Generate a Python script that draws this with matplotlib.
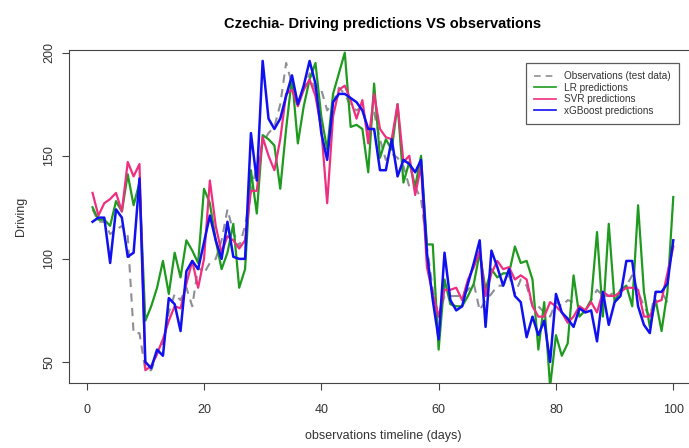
import matplotlib.pyplot as plt

plt.rcParams['font.family'] = ['Liberation Sans', 'DejaVu Sans']

days = list(range(1, 101))

observations = [124, 118, 118, 112, 114, 116, 111, 64, 64, 46,
                46, 54, 59, 74, 83, 80, 86, 77, 96, 93,
                98, 100, 109, 124, 113, 106, 116, 132, 145, 156,
                161, 164, 175, 195, 185, 176, 182, 190, 182, 182,
                172, 176, 183, 180, 174, 172, 174, 161, 171, 158,
                148, 151, 149, 145, 135, 135, 129, 106, 85, 72,
                82, 82, 82, 82, 85, 88, 75, 80, 83, 87,
                87, 92, 83, 90, 87, 77, 77, 74, 72, 79,
                77, 80, 79, 77, 75, 80, 85, 82, 82, 84,
                84, 87, 92, 84, 77, 72, 84, 84, 79, 79]

lr_pred = [125, 119, 119, 116, 128, 123, 141, 126, 137, 70,
           77, 86, 99, 83, 103, 91, 109, 104, 98, 134,
           127, 109, 95, 103, 117, 86, 95, 143, 122, 160,
           158, 155, 134, 163, 188, 156, 174, 187, 195, 169,
           153, 180, 190, 200, 164, 165, 163, 142, 185, 149,
           158, 153, 175, 137, 147, 135, 150, 107, 107, 56,
           90, 78, 77, 77, 82, 88, 103, 85, 95, 91,
           93, 93, 106, 98, 99, 90, 56, 79, 38, 63,
           53, 59, 92, 72, 75, 80, 113, 72, 117, 79,
           85, 87, 77, 126, 84, 67, 80, 65, 84, 130]

svr_pred = [132, 121, 127, 129, 132, 123, 147, 140, 146, 46,
            48, 54, 61, 70, 77, 76, 88, 99, 86, 100,
            138, 116, 103, 111, 109, 105, 109, 133, 133, 159,
            150, 143, 158, 180, 182, 174, 182, 187, 179, 163,
            127, 169, 182, 184, 177, 168, 177, 156, 180, 163,
            159, 158, 175, 147, 150, 131, 145, 96, 83, 72,
            85, 85, 86, 80, 90, 96, 104, 82, 93, 99,
            95, 96, 90, 92, 90, 77, 72, 72, 79, 77,
            74, 69, 72, 77, 75, 79, 74, 84, 82, 82,
            84, 86, 86, 85, 72, 72, 79, 80, 93, 106]

xgb_pred = [118, 120, 120, 98, 124, 120, 101, 103, 139, 50,
            47, 56, 53, 81, 78, 65, 94, 99, 95, 108,
            121, 109, 100, 118, 101, 100, 100, 161, 138, 196,
            168, 163, 168, 179, 189, 175, 184, 196, 185, 161,
            148, 176, 180, 180, 178, 176, 172, 163, 163, 143,
            143, 158, 140, 148, 146, 142, 148, 103, 80, 61,
            103, 80, 75, 77, 88, 98, 109, 67, 104, 96,
            87, 95, 82, 79, 62, 72, 63, 70, 50, 83,
            74, 71, 67, 76, 74, 75, 60, 84, 68, 79,
            82, 99, 99, 77, 68, 64, 84, 84, 88, 109]

fig = plt.figure(figsize=(6.89, 4.48), dpi=100)
ax = fig.add_axes([0.1006, 0.1451, 0.9103, 0.7433])

ax.plot(days, observations, color='#8e8e96', linestyle=(0, (4, 3)), linewidth=1.5,
        label='Observations (test data)')
ax.plot(days, lr_pred, color='#1f9a1f', linewidth=1.6, label='LR predictions')
ax.plot(days, svr_pred, color='#ee2f80', linewidth=1.6, label='SVR predictions')
ax.plot(days, xgb_pred, color='#1010f0', linewidth=1.8, label='xGBoost predictions')

ax.set_xlim(-2.96, 103.96)
ax.set_ylim(39.8, 201.3)
ax.set_xticks([0, 20, 40, 60, 80, 100])
ax.set_yticks([50, 100, 150, 200])
ax.tick_params(direction='out', length=5, color='#444444', labelsize=9,
               labelcolor='#333333')
ax.tick_params(axis='x', pad=10)
ax.tick_params(axis='y', pad=5)
plt.setp(ax.get_yticklabels(), rotation=90, va='center')
for s in ax.spines.values():
    s.set_color('#444444')
ax.spines['right'].set_visible(False)

ax.set_title('Czechia- Driving predictions VS observations', fontsize=10.5,
             fontweight='bold', pad=16)
ax.set_xlabel('observations timeline (days)', fontsize=9, color='#333333', labelpad=10)
ax.set_ylabel('Driving', fontsize=9, color='#333333', labelpad=12)

# legend box with thinner handle lines
leg = ax.legend(loc='upper right', bbox_to_anchor=(0.98, 0.975), fontsize=7.2,
                frameon=True, fancybox=False, shadow=False, handlelength=2.2,
                borderpad=0.8, labelspacing=0.15, handletextpad=0.8)
leg.get_frame().set_edgecolor('#333333')
leg.get_frame().set_linewidth(0.9)
for line in leg.get_lines():
    line.set_linewidth(1.2)
for t in leg.get_texts():
    t.set_color('#333333')

plt.savefig('out.png', dpi=100)
